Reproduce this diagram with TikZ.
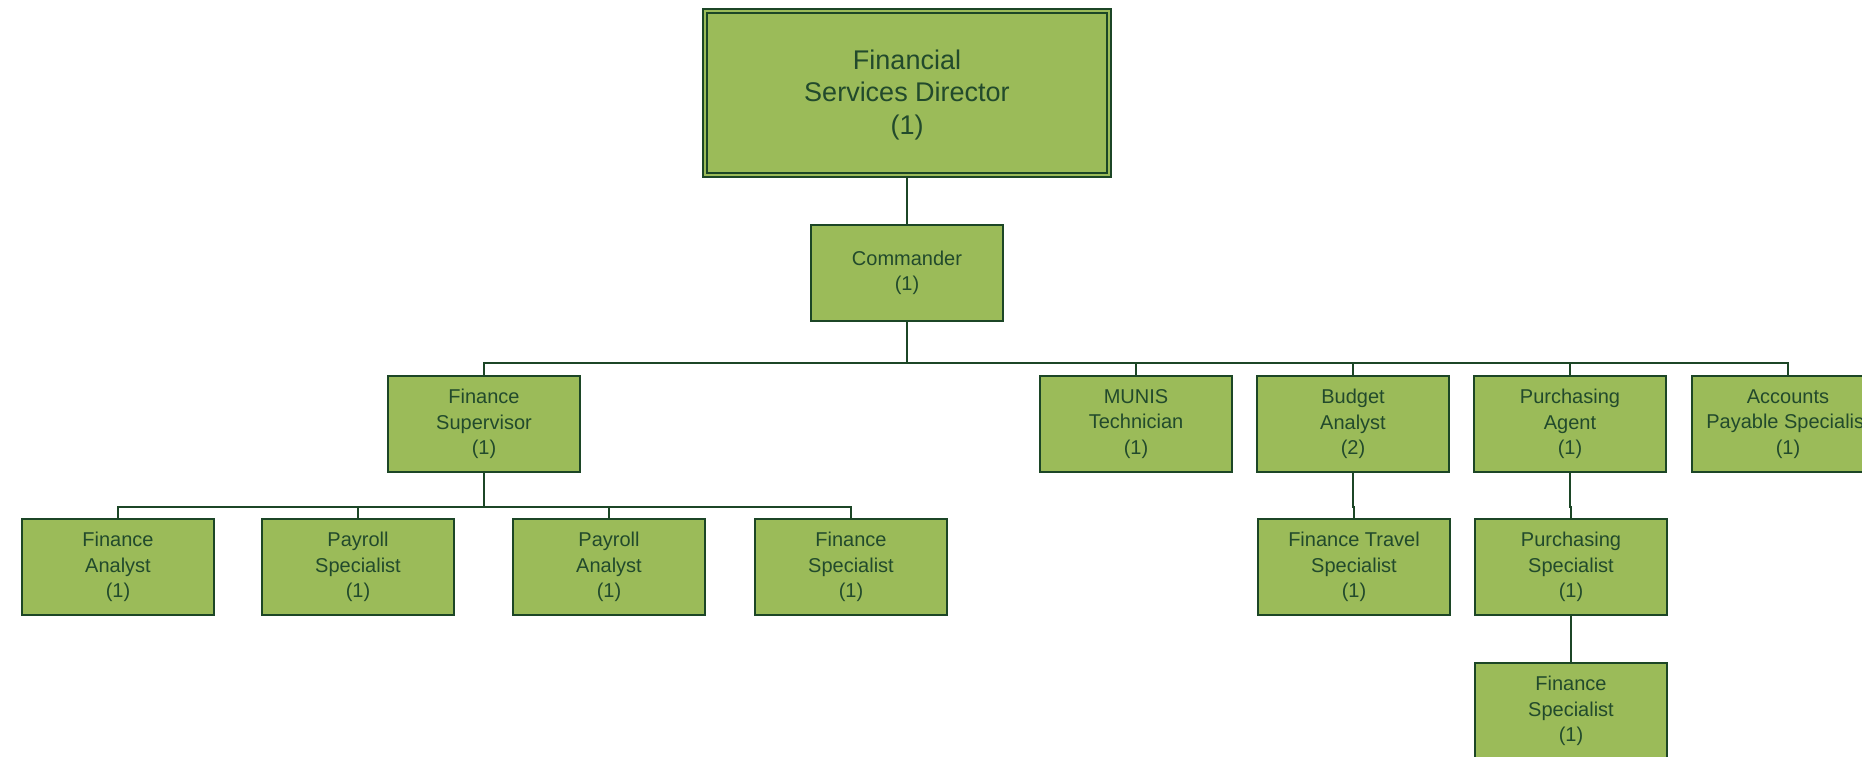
\documentclass[tikz,border=0pt]{standalone}
\usepackage{fontspec}
\setmainfont{Liberation Sans}
\definecolor{boxfill}{RGB}{155,187,89}
\definecolor{boxline}{RGB}{28,70,38}
\definecolor{boxtext}{RGB}{34,74,44}
\begin{document}
\begin{tikzpicture}[x=1pt,y=-1pt,
  orgbox/.style={draw=boxline,fill=boxfill,line width=1.6pt,minimum width=192pt,minimum height=96pt,
    align=center,text=boxtext,inner sep=0pt,font=\fontsize{20}{25.5}\selectfont},
  link/.style={draw=boxline,line width=1.6pt}]
\useasboundingbox (0,0) rectangle (1862,757);
\clip (0,0) rectangle (1862,757);
\fill[white] (0,0) rectangle (1862,757);
% director
\node[orgbox,minimum width=408pt,minimum height=168pt] (dir) at (907,93) {};
\node[text=boxtext,align=center,inner sep=0pt,font=\fontsize{27}{32.5}\selectfont] (dirtext) at (907,95) {Financial\\Services Director\\(1)};
\draw[boxline,line width=1.6pt] ([shift={(5,5)}]dir.north west) rectangle ([shift={(-5,-5)}]dir.south east);
\node[orgbox] (cmd) at (907,273) {Commander\\(1)};
% level 3
\node[orgbox] (fsup) at (484,424) {Finance\\Supervisor\\(1)};
\node[orgbox,yshift=0pt] (munis) at (1136,424) {MUNIS\\Technician\\(1)};
\node[orgbox] (budget) at (1353,424) {Budget\\Analyst\\(2)};
\node[orgbox] (pagent) at (1570,424) {Purchasing\\Agent\\(1)};
\node[orgbox] (ap) at (1788,424) {Accounts\\Payable Specialist\\(1)};
% level 4
\node[orgbox] (fan) at (118,567) {Finance\\Analyst\\(1)};
\node[orgbox] (psp) at (358,567) {Payroll\\Specialist\\(1)};
\node[orgbox] (pan) at (609,567) {Payroll\\Analyst\\(1)};
\node[orgbox] (fsp) at (851,567) {Finance\\Specialist\\(1)};
\node[orgbox] (ftr) at (1354,567) {Finance Travel\\Specialist\\(1)};
\node[orgbox] (pspec) at (1571,567) {Purchasing\\Specialist\\(1)};
\node[orgbox] (fsp2) at (1571,711) {Finance\\Specialist\\(1)};
% connectors
\draw[link] (dir.south) -- (cmd.north);
\foreach \t in {fsup,munis,budget,pagent,ap}
  \draw[link] (cmd.south) -- ++(0,41) -| (\t.north);
\foreach \t in {fan,psp,pan,fsp}
  \draw[link] (fsup.south) -- ++(0,34) -| (\t.north);
\draw[link] (budget.south) -- ++(0,34) -| (ftr.north);
\draw[link] (pagent.south) -- ++(0,34) -| (pspec.north);
\draw[link] (pspec.south) -- (fsp2.north);
\end{tikzpicture}
\end{document}
